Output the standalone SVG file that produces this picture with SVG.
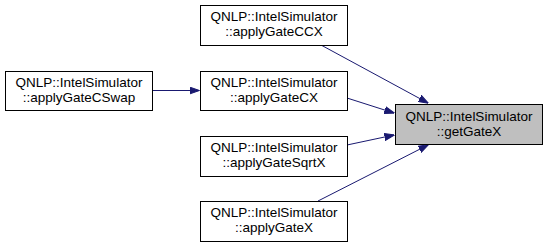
<svg xmlns="http://www.w3.org/2000/svg" width="547" height="248" viewBox="0 0 547 248">
<style>
  .node rect { fill: #ffffff; stroke: #000000; stroke-width: 1; }
  .node.focus rect { fill: #bfbfbf; }
  .node text { font-family: "Liberation Sans", Arial, sans-serif; font-size: 13.5px; fill: #000000; text-anchor: middle; }
  .edge { fill: none; stroke: #191970; stroke-width: 1; }
</style>
<defs>
  <marker id="arrow" markerWidth="10" markerHeight="8" refX="9.5" refY="4" orient="auto" markerUnits="userSpaceOnUse">
    <path d="M0,0.5 L10,4 L0,7.5 Z" fill="#191970" stroke="#191970" stroke-width="1"/>
  </marker>
</defs>
<rect width="547" height="248" fill="#ffffff"/>
<g id="connectors">
  <path class="edge" d="M153,90.5 L199,90.5" marker-end="url(#arrow)"/>
  <path class="edge" d="M321,45 L428,103" marker-end="url(#arrow)"/>
  <path class="edge" d="M347,98 L394,113" marker-end="url(#arrow)"/>
  <path class="edge" d="M347,145 L394,135" marker-end="url(#arrow)"/>
  <path class="edge" d="M318,201 L428,145" marker-end="url(#arrow)"/>
</g>
<g id="node-getGateX" class="node focus">
  <rect x="395.5" y="104.5" width="147" height="40"/>
  <text x="469" y="120.5">QNLP::IntelSimulator</text>
  <text x="469" y="135.5">::getGateX</text>
</g>
<g id="node-applyGateCCX" class="node">
  <rect x="200.5" y="5.5" width="147" height="40"/>
  <text x="274" y="21">QNLP::IntelSimulator</text>
  <text x="274" y="36">::applyGateCCX</text>
</g>
<g id="node-applyGateCX" class="node">
  <rect x="200.5" y="71.5" width="147" height="39"/>
  <text x="274" y="87">QNLP::IntelSimulator</text>
  <text x="274" y="102">::applyGateCX</text>
</g>
<g id="node-applyGateSqrtX" class="node">
  <rect x="200.5" y="136.5" width="147" height="40"/>
  <text x="274" y="152">QNLP::IntelSimulator</text>
  <text x="274" y="167">::applyGateSqrtX</text>
</g>
<g id="node-applyGateX" class="node">
  <rect x="200.5" y="201.5" width="147" height="40"/>
  <text x="274" y="217">QNLP::IntelSimulator</text>
  <text x="274" y="232">::applyGateX</text>
</g>
<g id="node-applyGateCSwap" class="node">
  <rect x="5.5" y="71.5" width="147" height="39"/>
  <text x="79" y="87">QNLP::IntelSimulator</text>
  <text x="79" y="102">::applyGateCSwap</text>
</g>
</svg>
